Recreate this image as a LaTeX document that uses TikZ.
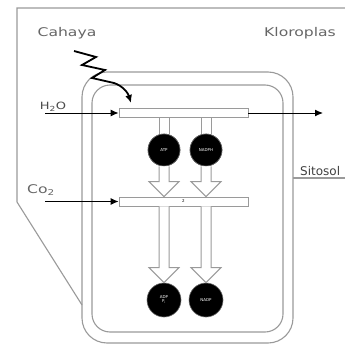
\documentclass[tikz,border=0pt]{standalone}
\usepackage{fontspec}
\setmainfont{DejaVu Sans}
\newfontfamily\lab[FakeStretch=1.3]{DejaVu Sans}
\usetikzlibrary{arrows.meta,calc}
\definecolor{frame}{HTML}{9A9A9A}
\definecolor{txt}{HTML}{666666}
\tikzset{
  wall/.style={draw=frame, line width=1.1pt},
  bar/.style={draw=frame, line width=0.9pt, fill=white, minimum width=129pt, minimum height=9pt, inner sep=0pt},
  mol/.style={circle, fill=black, draw=black!60, line width=0.6pt, minimum size=32pt, inner sep=0pt, text=white, font=\fontsize{4}{4.5}\selectfont, align=center},
  flow/.style={draw=black, line width=1pt, -{Latex[length=8pt,width=7pt]}},
  hollow/.style={draw=frame, line width=1pt, fill=white, line join=miter},
  lbl/.style={text=txt, font=\lab\fontsize{12}{14}\selectfont, inner sep=0pt},
  slbl/.style={text=txt, font=\lab\fontsize{10}{12}\selectfont, inner sep=0pt}
}
\newcommand{\harrow}[2]{%
  \draw[hollow] ($(#1)+(-5,0)$) -- ($(#2)+(-5,-15)$) -- ($(#2)+(-15,-15)$) -- (#2)
    -- ($(#2)+(15,-15)$) -- ($(#2)+(5,-15)$) -- ($(#1)+(5,0)$);}
\begin{document}
\begin{tikzpicture}[x=1pt,y=-1pt]
\useasboundingbox (0,0) rectangle (345,345);
\fill[white] (0,0) rectangle (345,345);
% cell outline
\draw[wall] (345,8) -- (17,8) -- (17,202) -- (82,305);
\draw[wall] (293,178) -- (345,178);
% chloroplast membranes
\draw[wall, rounded corners=25pt] (82,72) rectangle (293,343);
\draw[wall, rounded corners=18pt] (92,85) rectangle (283,332);
% labels
\node[lbl] (cahaya) at (67,33) {Cahaya};
\node[lbl] (kloro) at (300,33) {Kloroplas};
\node[anchor=south west, text=black!75, font=\fontsize{12}{14}\selectfont, inner sep=0pt] (sitosol) at (300,176) {Sitosol};
\node[slbl, text=black!70] (h2o) at (53,107) {H\textsubscript{2}O};
\node[lbl] (co2) at (41,190) {Co\textsubscript{2}};
% bars
\node[bar] (bar1) at (183.5,113) {};
\node[bar, font=\fontsize{4}{4}\selectfont] (bar2) at (183.5,201.5) {2};
% molecules
\node[mol] (atp) at (164,150) {ATP};
\node[mol] (nadph) at (206,150) {NADPH};
\node[mol, minimum size=34pt] (adp) at (164,300) {ADP\\[-0.5pt]P\textsubscript{i}};
\node[mol, minimum size=34pt] (nadp) at (206,300) {NADP};
% shafts bar1 -> circles
\draw[frame, line width=1pt] ($(bar1.south -| atp)+(-5,0)$) -- ($(atp.north)+(-5,0)$)
  ($(bar1.south -| atp)+(5,0)$) -- ($(atp.north)+(5,0)$);
\draw[frame, line width=1pt] ($(bar1.south -| nadph)+(-5,0)$) -- ($(nadph.north)+(-5,0)$)
  ($(bar1.south -| nadph)+(5,0)$) -- ($(nadph.north)+(5,0)$);
\node[mol] at (atp) {ATP};
\node[mol] at (nadph) {NADPH};
% hollow arrows
\coordinate (t1) at (atp.south |- bar2.north);
\coordinate (t2) at (nadph.south |- bar2.north);
\harrow{atp.south}{t1}
\harrow{nadph.south}{t2}
\coordinate (s3) at (bar2.south -| adp);
\coordinate (s4) at (bar2.south -| nadp);
\harrow{s3}{adp.north}
\harrow{s4}{nadp.north}
% flows
\coordinate (h2oin) at (45,113);
\coordinate (out) at (323,113);
\coordinate (co2in) at (45,201.5);
\draw[flow] (h2oin) -- (bar1.west);
\draw[flow] (bar1.east) -- (out);
\draw[flow] (co2in) -- (bar2.west);
% light
\coordinate (z0) at (74,51);
\coordinate (lt) at (131,103);
\draw[black, line width=1.8pt, line join=miter, -{Latex[length=8pt,width=7pt]}]
  (z0) -- (96,57) -- (82,65) -- (105,70) -- (92,78) -- (114,83)
  .. controls (123,86) and (128,93) .. (lt);
\end{tikzpicture}
\end{document}
